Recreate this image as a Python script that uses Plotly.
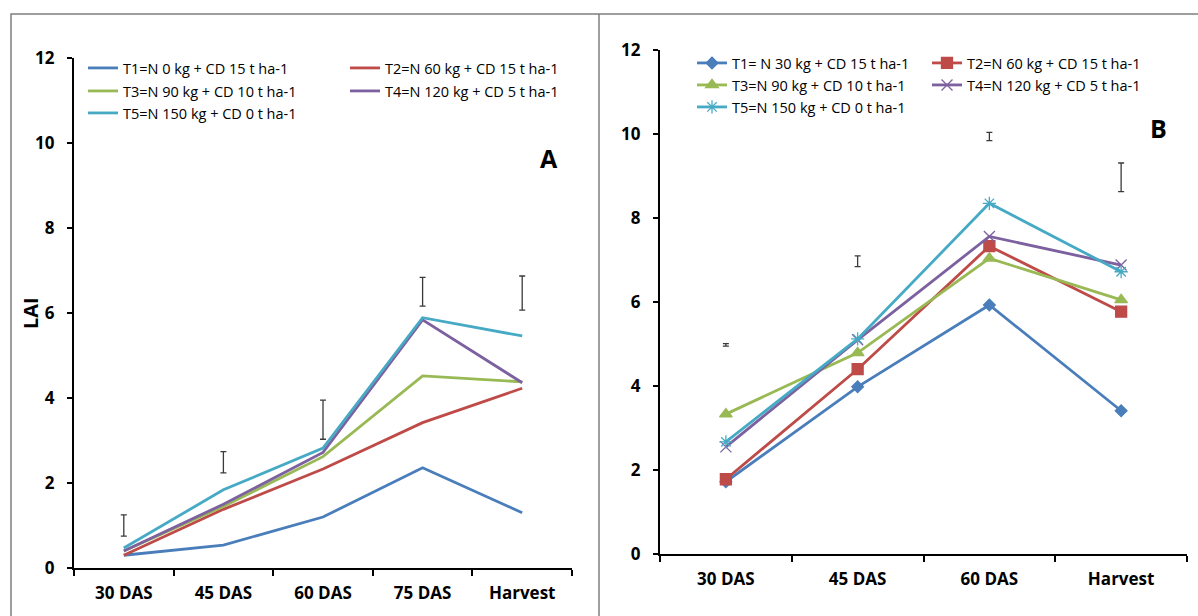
import plotly.graph_objects as go

# ---------------- data ----------------
cats_A = ["30 DAS", "45 DAS", "60 DAS", "75 DAS", "Harvest"]
A_T1 = [0.30, 0.54, 1.20, 2.36, 1.30]
A_T2 = [0.30, 1.38, 2.33, 3.42, 4.23]
A_T3 = [0.40, 1.45, 2.62, 4.52, 4.38]
A_T4 = [0.40, 1.50, 2.72, 5.84, 4.36]
A_T5 = [0.47, 1.84, 2.82, 5.89, 5.46]
A_err_mid = [1.00, 2.49, 3.49, 6.50, 6.47]
A_err = [0.25, 0.25, 0.46, 0.34, 0.40]
names_A = ["T1=N 0 kg + CD 15 t ha-1", "T2=N 60 kg + CD 15 t ha-1",
           "T3=N 90 kg + CD 10 t ha-1", "T4=N 120 kg + CD 5 t ha-1",
           "T5=N 150 kg + CD 0 t ha-1"]

cats_B = ["30 DAS", "45 DAS", "60 DAS", "Harvest"]
B_T1 = [1.72, 3.98, 5.93, 3.41]
B_T2 = [1.78, 4.40, 7.33, 5.77]
B_T3 = [3.33, 4.79, 7.04, 6.05]
B_T4 = [2.55, 5.10, 7.56, 6.88]
B_T5 = [2.67, 5.12, 8.35, 6.72]
B_err_mid = [4.98, 6.97, 9.94, 8.97]
B_err = [0.03, 0.13, 0.10, 0.34]
names_B = ["T1= N 30 kg + CD 15 t ha-1", "T2=N 60 kg + CD 15 t ha-1",
           "T3=N 90 kg + CD 10 t ha-1", "T4=N 120 kg + CD 5 t ha-1",
           "T5=N 150 kg + CD 0 t ha-1"]

y_ticks = [0, 2, 4, 6, 8, 10, 12]

# ---------------- style ----------------
colors = ["#4A7EBB", "#BE4B48", "#98B954", "#7D60A0", "#46AAC5"]
symbols_B = ["diamond", "square", "triangle-up", "x-thin-open", "asterisk-open"]
sizes_B = [9, 11, 11, 11, 11]
FONT = "Open Sans"
W, H = 1198, 616
ML, MR, MT, MB = 74, 11, 40, 46
PW = W - ML - MR
PH = H - MT - MB


def px_x(p):
    return (p - ML) / PW


def px_y(p):
    return (H - MB - p) / PH


legends_A = ["legend", "legend2", "legend3"]
legends_B = ["legend4", "legend5", "legend6"]
row_of = [0, 0, 1, 1, 2]

fig = go.Figure()
series_A = [A_T1, A_T2, A_T3, A_T4, A_T5]
for i, ys in enumerate(series_A):
    fig.add_trace(go.Scatter(
        x=cats_A, y=ys, mode="lines", name=names_A[i],
        line=dict(color=colors[i], width=2.8),
        xaxis="x", yaxis="y", legend=legends_A[row_of[i]]))
fig.add_trace(go.Scatter(
    x=cats_A, y=A_err_mid, mode="markers", showlegend=False,
    marker=dict(size=1, opacity=0),
    error_y=dict(type="data", array=A_err, visible=True, color="#3a3a3a",
                 thickness=1.3, width=3),
    xaxis="x", yaxis="y"))

series_B = [B_T1, B_T2, B_T3, B_T4, B_T5]
for i, ys in enumerate(series_B):
    fig.add_trace(go.Scatter(
        x=cats_B, y=ys, mode="lines+markers", name=names_B[i],
        line=dict(color=colors[i], width=2.8),
        marker=dict(symbol=symbols_B[i], size=sizes_B[i], color=colors[i],
                    line=dict(color=colors[i], width=1.3)),
        xaxis="x2", yaxis="y2", legend=legends_B[row_of[i]]))
fig.add_trace(go.Scatter(
    x=cats_B, y=B_err_mid, mode="markers", showlegend=False,
    marker=dict(size=1, opacity=0),
    error_y=dict(type="data", array=B_err, visible=True, color="#3a3a3a",
                 thickness=1.3, width=3),
    xaxis="x2", yaxis="y2"))

tickfont = dict(family=FONT, size=17, color="#000000", weight="bold")
xax = dict(type="category", showline=True, linecolor="#000000", linewidth=2.2,
           ticks="outside", tickson="boundaries", ticklen=6, tickwidth=1.8,
           tickcolor="#000000", tickfont=tickfont, showgrid=False,
           zeroline=False, ticklabelstandoff=8, fixedrange=True)
yax = dict(range=[0, 12], tickvals=y_ticks, showline=True, linecolor="#000000",
           linewidth=2.2, ticks="outside", ticklen=5, tickwidth=1.8,
           tickcolor="#000000", tickfont=tickfont, showgrid=False,
           zeroline=False, ticklabelstandoff=9, fixedrange=True)

legend_font = dict(family=FONT, size=14.5, color="#000000")


def mk_legend(x, y, ew):
    return dict(x=x, y=y, xanchor="left", yanchor="middle",
                orientation="h", entrywidth=ew, entrywidthmode="pixels",
                font=legend_font, bgcolor="rgba(0,0,0,0)", borderwidth=0,
                itemclick=False, itemdoubleclick=False)


big = dict(family=FONT, size=25, color="#000000", weight="bold")
layout = dict(
    width=W, height=H,
    margin=dict(l=ML, r=MR, t=MT, b=MB, autoexpand=False),
    paper_bgcolor="#ffffff", plot_bgcolor="#ffffff",
    showlegend=True,
    xaxis=dict(xax, domain=[0, px_x(572)], anchor="y",
               range=[-0.5, len(cats_A) - 0.5]),
    yaxis=dict(yax, domain=[px_y(568), px_y(58)], anchor="x"),
    xaxis2=dict(xax, domain=[px_x(660), px_x(1187)], anchor="y2",
                range=[-0.5, len(cats_B) - 0.5]),
    yaxis2=dict(yax, domain=[px_y(554), px_y(50)], anchor="x2"),
    shapes=[
        dict(type="rect", xref="paper", yref="paper",
             x0=px_x(11), x1=px_x(1210), y0=px_y(640), y1=px_y(14),
             line=dict(color="#7f7f7f", width=1.5), fillcolor="rgba(0,0,0,0)"),
        dict(type="line", xref="paper", yref="paper",
             x0=px_x(599), x1=px_x(599), y0=px_y(640), y1=px_y(14),
             line=dict(color="#7f7f7f", width=1.5)),
    ],
    annotations=[
        dict(text="LAI", x=px_x(30), y=px_y(313), xref="paper", yref="paper",
             xanchor="center", yanchor="middle", textangle=-90,
             showarrow=False,
             font=dict(family=FONT, size=20, color="#000000", weight="bold")),
        dict(text="A", x=px_x(549), y=px_y(158), xref="paper", yref="paper",
             xanchor="center", yanchor="middle", showarrow=False, font=big),
        dict(text="B", x=px_x(1158), y=px_y(128), xref="paper", yref="paper",
             xanchor="center", yanchor="middle", showarrow=False, font=big),
    ],
)
rows_A_y = [68, 91, 113]
rows_B_y = [63, 85, 107]
for k, nm in enumerate(legends_A):
    layout[nm] = mk_legend(px_x(83), px_y(rows_A_y[k]), 217)
for k, nm in enumerate(legends_B):
    layout[nm] = mk_legend(px_x(692), px_y(rows_B_y[k]), 190)

fig.update_layout(**layout)
fig.write_html("out.html")
